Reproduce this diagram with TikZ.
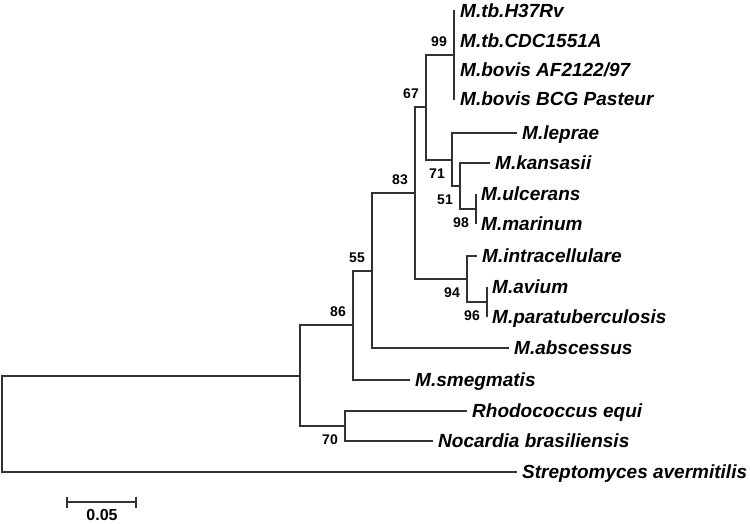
\documentclass[tikz,border=0pt]{standalone}
\usepackage{fontspec}
\setmainfont{Liberation Sans}
\usetikzlibrary{positioning,arrows.meta}
\definecolor{treegray}{RGB}{50,50,50}

\begin{document}
\begin{tikzpicture}[x=1pt,y=-1pt,
  branch/.style={draw=treegray,line width=1.8pt},
  leaf/.style={anchor=west,inner xsep=5pt,inner ysep=0pt,text height=13.5pt,text depth=0pt,
    font=\fontsize{19}{21}\selectfont\bfseries\itshape},
  boot/.style={inner sep=0pt,text height=10pt,text depth=0pt,font=\fontsize{14}{16}\selectfont\bfseries},
  scalelab/.style={inner sep=0pt,font=\fontsize{16}{18}\selectfont\bfseries}]
\useasboundingbox (0,0) rectangle (750,523);
% inner nodes of the tree
\coordinate (root) at (2,424);
\coordinate (J) at (300,376);
\coordinate (K) at (345,426);
\coordinate (M) at (353,325);
\coordinate (H) at (372,271);
\coordinate (B) at (415,193);
\coordinate (A) at (426,107);
\coordinate (tb) at (454,55);
\coordinate (C) at (452,160);
\coordinate (D) at (460,186);
\coordinate (E) at (476,209);
\coordinate (F) at (467,279);
\coordinate (G) at (487,302);
% leaves
\node[leaf] (h37rv) at (455,11) {M.tb.H37Rv};
\node[leaf] (cdc) at (455,41) {M.tb.CDC1551A};
\node[leaf] (bovis) at (455,70) {M.bovis AF2122/97};
\node[leaf] (bcg) at (455,99) {M.bovis BCG Pasteur};
\node[leaf] (leprae) at (517,133) {M.leprae};
\node[leaf] (kansasii) at (490,163) {M.kansasii};
\node[leaf] (ulcerans) at (476,194) {M.ulcerans};
\node[leaf] (marinum) at (476,224) {M.marinum};
\node[leaf] (intra) at (477,256) {M.intracellulare};
\node[leaf] (avium) at (487,287) {M.avium};
\node[leaf] (paratb) at (487,317) {M.paratuberculosis};
\node[leaf] (absc) at (509,348) {M.abscessus};
\node[leaf] (smeg) at (410,380) {M.smegmatis};
\node[leaf] (rhodo) at (467,411) {Rhodococcus equi};
\node[leaf] (nocardia) at (433,441) {Nocardia brasiliensis};
\node[leaf] (strep) at (517,472) {Streptomyces avermitilis};
% branches
\draw[branch] (root) |- (J);
\draw[branch] (root) |- (strep.west);
\draw[branch] (J) |- (M);
\draw[branch] (J) |- (K);
\draw[branch] (M) |- (H);
\draw[branch] (M) |- (smeg.west);
\draw[branch] (H) |- (B);
\draw[branch] (H) |- (absc.west);
\draw[branch] (B) |- (A);
\draw[branch] (B) |- (F);
\draw[branch] (A) |- (tb);
\draw[branch] (A) |- (C);
\draw[branch] (tb) |- (h37rv.west);
\draw[branch] (tb) |- (cdc.west);
\draw[branch] (tb) |- (bovis.west);
\draw[branch] (tb) |- (bcg.west);
\draw[branch] (C) |- (leprae.west);
\draw[branch] (C) |- (D);
\draw[branch] (D) |- (kansasii.west);
\draw[branch] (D) |- (E);
\draw[branch] (E) |- (ulcerans.west);
\draw[branch] (E) |- (marinum.west);
\draw[branch] (F) |- (intra.west);
\draw[branch] (F) |- (G);
\draw[branch] (G) |- (avium.west);
\draw[branch] (G) |- (paratb.west);
\draw[branch] (K) |- (rhodo.west);
\draw[branch] (K) |- (nocardia.west);
% bootstrap values
\node[boot,above left=8pt and 7pt of tb] (b99) {99};
\node[boot,above left=8pt and 7pt of A] (b67) {67};
\node[boot,above left=8pt and 7pt of B] (b83) {83};
\node[boot,below left=8pt and 7pt of C] (b71) {71};
\node[boot,below left=8pt and 7pt of D] (b51) {51};
\node[boot,below left=8pt and 7pt of E] (b98) {98};
\node[boot,below left=8pt and 7pt of F] (b94) {94};
\node[boot,below left=8pt and 7pt of G] (b96) {96};
\node[boot,above left=8pt and 7pt of H] (b55) {55};
\node[boot,above left=8pt and 7pt of M] (b86) {86};
\node[boot,below left=8pt and 7pt of K] (b70) {70};
% scale bar
\coordinate (sbl) at (66,502);
\coordinate (sbr) at (137,502);
\draw[branch,{Bar[width=11pt]}-{Bar[width=11pt]}] (sbl) -- (sbr);
\node[scalelab] (sblab) at (102,515) {0.05};
\end{tikzpicture}
\end{document}
